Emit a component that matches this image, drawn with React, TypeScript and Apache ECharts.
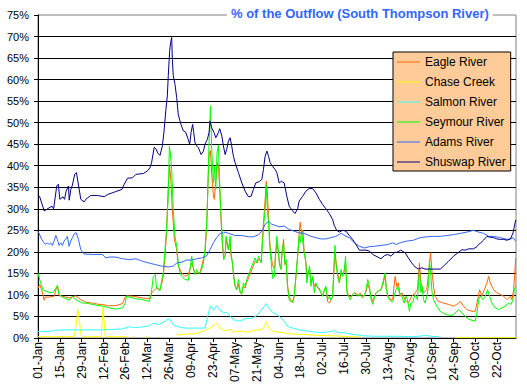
import React, { useEffect, useRef } from "react";
import * as echarts from "echarts";

const TITLE = "% of the Outflow (South Thompson River)";
const MONTHS = ["Jan", "Feb", "Mar", "Apr", "May", "Jun", "Jul", "Aug", "Sep", "Oct", "Nov", "Dec"];
const X_TICK_DAYS = [0, 14, 28, 42, 56, 70, 84, 98, 112, 126, 140, 154, 168, 182, 196, 210, 224, 238, 252, 266, 280, 294];
const Y_TICKS = [0, 5, 10, 15, 20, 25, 30, 35, 40, 45, 50, 55, 60, 65, 70, 75];
const SERIES_NAMES = ["Eagle River", "Chase Creek", "Salmon River", "Seymour River", "Adams River", "Shuswap River"];
const SERIES_COLORS = ["#FF6600", "#FFFF00", "#33FFFF", "#00FF00", "#3366FF", "#000080"];

// [day of year (0 = 01-Jan), percent]
const eagle: [number, number][] = [
  [0, 11.6], [1.1, 12.4], [2.4, 11.2], [3.9, 8.8], [4.5, 9.5], [7.1, 9.5], [10.3, 9.7], [11.8, 11.6], [12.6, 12], [13.5, 9.8],
  [15.6, 9.7], [19.9, 9.3], [24.2, 9.8], [27.4, 8.9], [30.6, 8.3], [34.9, 8.1], [39.1, 7.8], [41.3, 7.8], [44.5, 7.5], [49.8, 7.5],
  [54.1, 8], [55.8, 9.5], [56.7, 9.8], [60.5, 9.7], [66.9, 9.3], [71.2, 9.1], [72.9, 10.5], [74.4, 11.1], [75.9, 11.6], [77, 11.6],
  [78.1, 11.2], [79.1, 12.4], [80.2, 14.3], [81.3, 19], [82.3, 24.4], [83.4, 35.3], [84.3, 39.9], [85.1, 36.4], [86, 29.8], [87.3, 22.9],
  [88.8, 20.5], [89.8, 16.7], [92, 15.1], [94.1, 14.3], [96.2, 14.7], [98.4, 17.4], [100.5, 15.1], [103.7, 15.1], [106.9, 19.8], [108, 25.9],
  [109.1, 39.1], [109.7, 43], [110.4, 43.5], [111.2, 38], [112.3, 33], [112.9, 32.2], [113.8, 36.4], [114.6, 40.7], [115.5, 40], [116.6, 33],
  [117.2, 27], [118.1, 21.3], [118.9, 18.6], [119.8, 19], [120.4, 22.9], [121.9, 20.5], [123, 22.1], [123.6, 19], [124.5, 17.4], [125.3, 14.3],
  [126.2, 12], [127.2, 11.2], [128.3, 12.5], [129.4, 10.5], [130.4, 10.5], [131.5, 12], [132.6, 11.6], [133.7, 13], [135.2, 14.3], [136.9, 15.9],
  [139, 17.8], [140.1, 17.4], [141.2, 18.2], [142.9, 17.8], [143.7, 23.3], [144.6, 28], [145.4, 32.2], [146.1, 36.4], [146.7, 34.5], [147.6, 28.3],
  [148.4, 22.1], [149.3, 19], [150.1, 17], [151.4, 16], [152, 19], [152.9, 22], [153.8, 20], [154.6, 17], [155.5, 16], [156.3, 20],
  [157.2, 22.9], [158, 17], [158.9, 17.5], [159.7, 12.5], [160.8, 9.5], [161.9, 8.8], [163, 8.2], [164, 9.7], [165.1, 14], [166.2, 19],
  [167.2, 24.5], [167.9, 26.9], [168.7, 24], [169.6, 25], [170.4, 20], [171.5, 17.8], [172.1, 14], [173, 15.5], [173.9, 16], [174.7, 13],
  [175.8, 14], [176.9, 12], [177.9, 12.5], [179, 11.8], [180.1, 11.2], [181.1, 10.5], [182.2, 10], [183.3, 11], [184.3, 11.6], [185.4, 8.5],
  [186.5, 8.1], [187.5, 8.8], [188.6, 9.5], [189.3, 14.5], [190.1, 20], [190.7, 18], [191.8, 15], [192.9, 13], [194, 15], [195, 14.5],
  [196.1, 15.5], [196.9, 17.5], [197.8, 11], [198.7, 10], [199.9, 9.5], [201.4, 10.1], [202.5, 10.5], [204.6, 10], [206.4, 10.4], [207.6, 9.7],
  [208.9, 10], [210, 10.8], [211.1, 12.5], [212.1, 11.5], [213.2, 9.5], [214.3, 8.5], [215.3, 9.6], [216.4, 10.5], [217.9, 10.9], [219.6, 11.2],
  [220.7, 12.2], [222.2, 14.5], [223, 11.5], [223.9, 10], [224.9, 9.3], [226, 8.8], [227.1, 9], [228.6, 14.3], [229.7, 12], [230.7, 12.8],
  [231.8, 9.7], [232.9, 10.5], [235, 8.9], [237.1, 8.1], [239.3, 9.7], [241.4, 10.5], [242.9, 11.2], [244.2, 17.4], [245.1, 12.8], [246.8, 10.5],
  [248.9, 11.2], [250, 15.1], [251.3, 19.8], [252.1, 15.9], [253.2, 12], [254.2, 9.7], [256.4, 8.5], [259.6, 8.1], [262.8, 7.8], [266, 7.4],
  [268.1, 7.8], [270.3, 8.5], [272.4, 7.4], [274.6, 6.6], [277.8, 6.2], [279.9, 6.2], [281, 8.1], [282.7, 11.2], [284.2, 9.7], [285.7, 11.2],
  [287.4, 12.8], [288.5, 14.3], [289.5, 12.8], [291.7, 11.2], [293.8, 10.5], [295.9, 10.1], [298.1, 9.7], [300.2, 8.9], [302.4, 9.7], [303.4, 8.9],
  [304.5, 11.2], [305.2, 15], [305.8, 18.5]
];

const chase: [number, number | null][] = [
  [0, 0.3], [23, 0.3], [24.5, 3], [25.5, 6.8], [26.5, 4], [27.5, 0.8], [28.5, 0.3], [40.5, 0.3], [41, 3.5], [41.7, 7.6],
  [42.3, 4], [43, 0.5], [44, 0.3], [56.7, 0.3], [58.5, null], [60.4, 0.3], [61.4, 0.3], [65, null], [69, 0.3], [70, 0.3],
  [73, null], [76, 0.3], [76.5, 0.3], [82, null], [88.8, 0.7], [94, 0.9], [100.5, 1], [106, 1.6], [110, 2.3], [114.4, 3.4],
  [116.6, 2.3], [118.7, 1.8], [120.8, 1.7], [123, 2], [125, 1.4], [128, 1.5], [131, 1.6], [134, 1.3], [138, 1.8], [142, 1.9],
  [144.3, 2.2], [146.1, 3.8], [147.6, 2.5], [150, 1.6], [153, 1.4], [157, 1.2], [163, 0.9], [170, 0.8], [180, 0.6], [190, 0.5],
  [200, 0.3], [206, 0.3], [236, null], [267, 0.05], [306, 0.05]
];

const salmon: [number, number | null][] = [
  [0, 1.5], [9.2, 1.6], [11.4, 1.8], [19.9, 1.9], [30.6, 1.9], [41.3, 1.9], [54.1, 2.1], [58.4, 2.6], [62.7, 2.4], [66.9, 2.6],
  [71.2, 2.8], [73.8, 3.5], [77, 3.1], [79.1, 3.5], [81.3, 3.9], [83.4, 4.4], [84.5, 4.3], [86.6, 3.1], [89.8, 2.6], [94.1, 2.3],
  [100.5, 2.3], [106.9, 2.3], [108.6, 5], [110.5, 7.5], [112.3, 6.4], [114.4, 7.5], [116.6, 6.4], [118.7, 5.8], [120.8, 6], [123, 5],
  [126.2, 4], [130, 4], [132.6, 4.5], [137, 4.6], [140, 5.2], [143, 6.5], [146.1, 8], [147.6, 7], [150, 6], [153.1, 5.4],
  [155.5, 4.7], [157.6, 3.9], [159.7, 2.7], [163, 2.3], [168.3, 1.8], [172.6, 1.6], [179, 1.3], [183.3, 1.3], [188.6, 1.6], [189.7, 1.8],
  [191.8, 1.3], [196.1, 1.2], [202.5, 0.8], [208.9, 0.5], [215.3, 0.4], [221.7, 0.4], [229.4, 0.4], [240, 0.3], [249, 0.6], [251, 0.4],
  [257, 0.3], [260, null]
];

const seymour: [number, number][] = [
  [0, 15.1], [1.7, 12.8], [3.2, 11.2], [4.9, 10.9], [7.1, 10.6], [9.2, 10.5], [10.3, 10.9], [11.4, 11.6], [12.4, 12.2], [13.5, 10.1],
  [15.6, 9.5], [17.8, 9.1], [19.9, 8.8], [22, 9.7], [24.2, 8.9], [26.3, 8.5], [28.4, 8.1], [30.6, 8.1], [34.9, 7.8], [39.1, 7.5],
  [41.3, 7.4], [45.6, 7], [49.8, 6.7], [54.1, 7], [55.8, 8.1], [56.7, 9.7], [58.4, 9.5], [62.7, 9.1], [66.9, 8.9], [71.2, 8.5],
  [72.3, 9.7], [73.8, 14.3], [75.1, 14.7], [75.9, 11.6], [77, 11.2], [78.1, 11], [79.1, 13.2], [80.2, 15.1], [81.3, 20.5], [82.3, 25.2],
  [83.4, 32.9], [84.1, 44.6], [84.7, 43], [85.6, 39.1], [86.6, 29.8], [87.7, 23.6], [88.8, 21.3], [89.8, 17.4], [90.9, 15.1], [92, 14.3],
  [94.1, 13.6], [96.2, 13.4], [97.3, 15.9], [98.4, 19], [99.4, 16.3], [100.5, 14.7], [101.6, 15.9], [102.7, 15.1], [103.7, 15.1], [104.8, 15.9],
  [105.9, 17.4], [106.9, 20.5], [108, 26.7], [108.6, 32.9], [109.5, 45.3], [110.4, 53.9], [111.2, 43.8], [112.3, 36], [112.9, 39.9], [113.8, 34.5],
  [114.6, 43], [115.5, 44.8], [116.6, 32.9], [117.2, 28.3], [118.1, 22.9], [118.9, 18.2], [119.8, 19], [120.4, 23.6], [121.3, 22.1], [121.9, 20.5],
  [123, 23.6], [123.6, 19.8], [124.5, 17.4], [125.3, 14.3], [126.2, 12], [127.2, 11.2], [128.3, 13.6], [129.4, 10.9], [130.4, 10.1], [131.5, 12.8],
  [132.6, 12], [133.7, 13.6], [135.2, 15.1], [136.9, 16.7], [139, 18.6], [140.1, 17.4], [141.2, 19], [142.9, 17.4], [143.7, 22.1], [144.6, 26.7],
  [145.4, 29.8], [146.1, 35.5], [146.7, 30.6], [147.6, 26.7], [148.4, 21.3], [149.3, 17.4], [150.3, 13.8], [151.4, 14.3], [152, 19], [152.9, 23.6],
  [153.8, 20.5], [154.6, 17.4], [155.5, 15.9], [156.3, 20.5], [157.2, 22.1], [158, 17.4], [158.9, 18.2], [159.7, 12], [160.8, 8.9], [161.9, 8.4],
  [163, 8.5], [164, 9.7], [165.1, 14.3], [166.2, 19], [167.2, 23.6], [167.9, 22.1], [168.7, 25.2], [169.6, 22.1], [170.4, 19.8], [171.5, 17.4],
  [172.1, 12.8], [173, 15.1], [173.9, 16.7], [174.7, 12], [175.8, 14.3], [176.9, 10.5], [177.9, 12.8], [179, 11.6], [180.1, 11.6], [181.1, 10.5],
  [182.2, 9.7], [183.3, 11.2], [184.3, 12], [185.4, 8.9], [186.5, 9.7], [187.5, 8.8], [188.6, 9.7], [189.3, 15.9], [190.1, 21.5], [190.7, 17.4],
  [191.8, 14.3], [192.9, 12.8], [194, 15.9], [195, 14.3], [196.1, 15.9], [196.9, 19], [197.8, 10.5], [198.7, 9.7], [199.9, 8.9], [201.4, 10.1],
  [202.5, 10.5], [204.6, 9.7], [206.4, 10.1], [207.6, 9.3], [208.9, 9.7], [210, 11.2], [211.1, 13.6], [212.1, 12], [213.2, 8.9], [214.3, 7.8],
  [215.3, 9.3], [216.4, 10.5], [217.9, 10.9], [219.6, 11.2], [220.7, 12.8], [222.2, 15.1], [223, 11.2], [223.9, 9.7], [224.9, 8.9], [226, 8.5],
  [227.1, 8.4], [228.2, 10.1], [229.2, 11.2], [230.1, 12], [231.4, 10.5], [232.9, 9.7], [234.4, 8.1], [235.6, 9.7], [236.5, 8.9], [237.8, 6.2],
  [238.6, 8.1], [239.9, 8.3], [241.4, 10.1], [242.9, 8.9], [244.2, 15.9], [245.1, 10.5], [245.9, 12], [246.8, 8.9], [247.8, 8.1], [248.9, 9.7],
  [250, 12], [250.6, 18.2], [251.5, 14.3], [252.3, 10.5], [253.2, 8.9], [255.3, 7.4], [257.5, 6.2], [259.6, 5.7], [261.7, 5.4], [264.9, 5.2],
  [267.1, 5.8], [269.2, 6.6], [271.4, 5.8], [273.5, 5], [275.6, 4.4], [277.8, 4.1], [279.9, 3.9], [281, 5.8], [282.1, 8.9], [283.1, 9.7],
  [284.8, 8.9], [286.3, 9.7], [287.8, 11.2], [289.1, 9.7], [290.6, 8.1], [292.7, 7], [294.9, 6.6], [297, 7], [299.1, 7.4], [301.3, 8.1],
  [302.8, 7.8], [304.1, 8.9], [304.9, 11.2], [305.8, 12]
];

const adams: [number, number][] = [
  [0, 24.8], [2.4, 22.9], [3.9, 22.1], [4.9, 21.7], [6, 22.1], [7.1, 21.7], [8.1, 22.1], [9.2, 21.5], [10.3, 22.5], [11.4, 23.8],
  [12.4, 22.9], [13.5, 21.5], [14.6, 22.1], [15.6, 21.5], [16.7, 22.5], [17.8, 23], [18.8, 23.6], [19.9, 21.3], [21, 22.5], [22, 23.3],
  [23.5, 24.3], [24.6, 24.4], [25.9, 22.9], [27.4, 20.5], [29.5, 19.5], [34.9, 19.4], [41.3, 19.4], [43.4, 18.6], [45.6, 18.8], [49.8, 18.8],
  [54.1, 18.4], [58.4, 18.2], [62.7, 18.4], [66.9, 17.8], [71.2, 17.4], [74.4, 17.1], [79.1, 16.7], [83.4, 16.5], [86.6, 16.7], [88.8, 17.4],
  [92, 17.6], [95.2, 18.1], [98.4, 18.1], [101.6, 18.4], [104.8, 18.6], [108, 19.1], [110.1, 20.5], [112.3, 22.1], [114.4, 23.3], [116.6, 24.3],
  [118.7, 24.4], [119.8, 24.6], [121.9, 24.3], [126.2, 23.8], [130.5, 23.8], [134.7, 23.5], [137.9, 23.5], [141.2, 24], [143.3, 24.8], [145.4, 26.4],
  [147.6, 27.1], [149.7, 26.4], [153.1, 26], [154.4, 25.8], [157.6, 26], [160.8, 25.2], [164, 24.8], [167.2, 24.4], [170.4, 24.3], [174.7, 23.6],
  [177.9, 23.3], [181.1, 23], [184.3, 23], [187.5, 23.3], [190.7, 23.6], [194, 24.3], [197.2, 23.6], [199.3, 23.3], [202.5, 22.1], [205.7, 21.3],
  [208.9, 20.9], [212.1, 21.2], [215.3, 21.3], [219.6, 21.5], [223.9, 21.7], [227.1, 22.1], [229.4, 21.7], [231.8, 22.1], [236.1, 22.5], [240.3, 22.7],
  [244.6, 23.3], [248.9, 23.5], [253.2, 23.6], [257.5, 23.6], [261.7, 23.8], [266, 24], [270.3, 24.3], [274.6, 24.6], [278.8, 25], [282, 24.6],
  [285.3, 24.3], [288.5, 23.6], [291.7, 23.6], [296, 23.3], [300.2, 22.9], [302.4, 23], [304.1, 23.3], [305.8, 22.5]
];

const shuswap: [number, number][] = [
  [0, 33], [1, 32.9], [4, 29.5], [7, 30.2], [9, 30.6], [10, 30], [12, 35.3], [13, 35.7], [14, 32.2], [16, 32.8],
  [17, 32.2], [18, 34.1], [19.5, 35.3], [20, 32], [21, 34.5], [22, 35.5], [23.5, 38], [24.6, 38.4], [26, 35.3], [27.4, 32.2],
  [29.5, 31.6], [30.6, 32.2], [33.8, 33.1], [38, 33.1], [42.4, 32.8], [44.5, 33.3], [49.8, 34], [53.7, 34.5], [55.2, 35.7], [57.3, 37.1],
  [60.5, 37.2], [62.7, 38], [67.4, 38.2], [70.1, 38.8], [71.6, 39.5], [72.7, 40.7], [74.4, 44.3], [75.5, 43.9], [76.6, 43], [78.1, 42.4],
  [79.6, 44.6], [80.6, 47.7], [81.9, 53.1], [82.8, 56.2], [83.4, 60.9], [84.3, 66.7], [84.9, 68.6], [85.6, 69.8], [86, 64.7], [86.6, 60.9],
  [87.7, 58.9], [88.8, 55.8], [89.8, 51.9], [91.5, 49.6], [93, 48.1], [94.5, 47.8], [96.2, 46.1], [97.1, 45], [98, 47.7], [99, 49.6],
  [99.7, 47.7], [100.5, 45.3], [101.6, 44.6], [102.7, 44.2], [104.4, 42.6], [105.9, 43.4], [106.9, 45], [108.4, 46.1], [109.5, 47.7], [110.1, 50.4],
  [111.2, 48.8], [112.7, 47.7], [113.8, 46.5], [115.5, 47.7], [116.3, 48.6], [117.6, 47.1], [118.7, 44.6], [119.8, 42.6], [120.8, 43.8], [121.9, 45.7],
  [123, 46.5], [124, 44.6], [125.1, 42.2], [126.2, 40.7], [128.3, 38.4], [130.5, 36], [132.6, 34.1], [134.7, 32.8], [136.4, 32.9], [137.9, 34.5],
  [139.4, 36], [141.6, 36.3], [143.3, 36.8], [144.3, 39.1], [145.4, 42.2], [146.5, 43.4], [147.6, 42.2], [148.6, 40.7], [150.1, 39.9], [151.8, 39.1],
  [152.9, 38.4], [154.4, 36], [155.9, 36.4], [157.6, 36], [159.3, 32.9], [160.8, 30.6], [163, 29.5], [164.5, 28.9], [166.2, 30], [167.2, 31.8],
  [169.4, 32.9], [171.5, 34.1], [173.6, 34.7], [175.8, 34.7], [177.9, 33.7], [180.1, 32.2], [182.2, 31], [184.3, 30], [186.5, 28.9], [188.6, 27.5],
  [189.7, 26.1], [191.2, 25], [192.9, 24.6], [195, 25], [197.2, 24.8], [199.3, 23.8], [201.4, 22.9], [203.6, 21.7], [205.7, 20.4], [210, 20.4],
  [212.1, 20.2], [214.3, 19.4], [216.4, 19], [219.6, 18.4], [221.7, 19.1], [223.9, 19.4], [226, 19], [228.2, 19.9], [229.7, 19.9], [232.2, 20.4],
  [235, 19.8], [237.1, 18.6], [239.3, 17.4], [241.4, 16.5], [243.6, 16], [245.7, 16.3], [247.8, 16], [251, 16], [254.2, 16], [257.5, 16],
  [259.6, 16.7], [262.8, 17.8], [266, 19], [269.2, 19.9], [271.4, 20.5], [273.5, 20.4], [275.6, 20.7], [278.8, 20.7], [281, 21.2], [282, 21.7],
  [283.5, 22.1], [285.2, 22.7], [287.4, 23.6], [289.5, 23.4], [291.7, 23.3], [293.8, 23], [295.9, 22.9], [298.1, 22.9], [300.2, 22.7], [302.4, 23],
  [304.1, 24.4], [305, 26], [305.8, 27.4]
];

const SERIES_DATA = [eagle, chase, salmon, seymour, adams, shuswap];

function dayLabel(v: number): string {
  if (Math.abs(v % 14) > 1e-6) return "";
  const d = new Date(Date.UTC(2001, 0, 1 + v));
  const dd = String(d.getUTCDate()).padStart(2, "0");
  return `${dd}-${MONTHS[d.getUTCMonth()]}`;
}

const FONT = "'Liberation Sans', Arial, sans-serif";

export default function App() {
  const ref = useRef<HTMLDivElement>(null);
  useEffect(() => {
    document.body.style.margin = "0";
    const chart = echarts.init(ref.current!, null, { renderer: "svg" });
    const splitColors = Y_TICKS.map((t) => (t === 75 ? "#808080" : "#000000"));
    chart.setOption({
      animation: false,
      backgroundColor: "#ffffff",
      textStyle: { fontFamily: FONT },
      title: {
        text: TITLE,
        left: 227,
        top: 6,
        padding: [0, 4, 0, 4],
        backgroundColor: "#ffffff",
        textStyle: { fontFamily: FONT, fontSize: 13, fontWeight: "bold", color: "#3366FF", lineHeight: 15 },
      },
      legend: {
        orient: "vertical",
        left: 393,
        top: 52,
        padding: [4, 5, 3, 4],
        icon: "rect",
        itemWidth: 23,
        itemHeight: 1,
        itemGap: 8,
        backgroundColor: "#FFCC99",
        borderColor: "#000000",
        borderWidth: 1,
        borderRadius: 0,
        textStyle: { fontFamily: FONT, fontSize: 12, color: "#000000" },
        data: SERIES_NAMES.map((name, i) => ({ name, itemStyle: { color: SERIES_COLORS[i], borderWidth: 0 } })),
      },
      grid: {
        left: 38,
        top: 15,
        right: 11,
        bottom: 52,
        show: true,
        backgroundColor: "#ffffff",
        borderColor: "#808080",
        borderWidth: 1,
        containLabel: false,
      },
      xAxis: {
        type: "value",
        min: 0,
        max: 306,
        interval: 14,
        axisLine: { show: true, lineStyle: { color: "#000000", width: 1 } },
        axisTick: { show: true, length: 4, lineStyle: { color: "#000000" }, customValues: X_TICK_DAYS },
        axisLabel: {
          rotate: 90,
          margin: 4,
          fontSize: 12,
          fontFamily: FONT,
          color: "#000000",
          formatter: (v: number) => dayLabel(v),
          customValues: X_TICK_DAYS,
          hideOverlap: false,
        },
        splitLine: { show: false },
      },
      yAxis: {
        type: "value",
        min: 0,
        max: 75,
        interval: 5,
        axisLine: { show: true, lineStyle: { color: "#000000", width: 1 } },
        axisTick: { show: true, length: 4, lineStyle: { color: "#000000" } },
        axisLabel: { margin: 9, fontSize: 11, fontFamily: FONT, color: "#000000", formatter: "{value}%" },
        splitLine: { show: true, showMaxLine: false, lineStyle: { color: splitColors, width: 1 } },
      },
      series: SERIES_NAMES.map((name, i) => ({
        name,
        type: "line",
        data: SERIES_DATA[i],
        symbol: "none",
        showSymbol: false,
        connectNulls: false,
        lineStyle: { color: SERIES_COLORS[i], width: 1 },
        itemStyle: { color: SERIES_COLORS[i] },
      })),
    });
    return () => chart.dispose();
  }, []);
  return <div ref={ref} style={{ position: "absolute", left: 0, top: 0, width: 527, height: 390 }} />;
}
